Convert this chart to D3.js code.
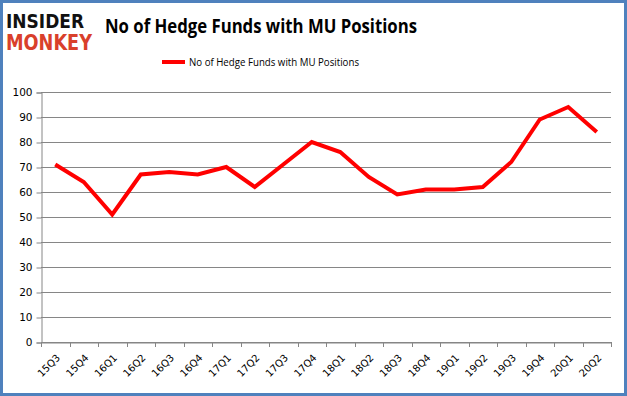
<!DOCTYPE html>
<html><head><meta charset="utf-8">
<script src="https://cdn.jsdelivr.net/npm/d3@7"></script>
<style>html,body{margin:0;padding:0;background:#fff}</style>
</head><body>
<script>
const categories = ["15Q3","15Q4","16Q1","16Q2","16Q3","16Q4","17Q1","17Q2","17Q3","17Q4","18Q1","18Q2","18Q3","18Q4","19Q1","19Q2","19Q3","19Q4","20Q1","20Q2"];
const values = [71,64,51,67,68,67,70,62,71,80,76,66,59,61,61,62,72,89,94,84];
const yTicks = [0,10,20,30,40,50,60,70,80,90,100];
const seriesName = "No of Hedge Funds with MU Positions";
const titleText = "No of Hedge Funds with MU Positions";

(function(){
const W = 627, H = 396;
const svg = d3.select("body").append("svg").attr("width", W).attr("height", H);
svg.append("rect").attr("x",1.5).attr("y",1.5).attr("width",W-3).attr("height",H-3)
  .attr("fill","#fff").attr("stroke","#4F81BD").attr("stroke-width",3);

// logo
svg.append("text").attr("x",6).attr("y",28).attr("font-family","DejaVu Sans").attr("font-weight","bold")
  .attr("font-size",20).attr("textLength",78).attr("lengthAdjust","spacingAndGlyphs").attr("fill","#111").text("INSIDER");
svg.append("text").attr("x",6).attr("y",50).attr("font-family","DejaVu Sans").attr("font-weight","bold")
  .attr("font-size",21).attr("textLength",86).attr("lengthAdjust","spacingAndGlyphs").attr("fill","#d9402b").text("MONKEY");

svg.append("text").attr("x",105).attr("y",33)
  .attr("font-family","Open Sans, Liberation Sans").attr("font-weight","bold").attr("font-size",19)
  .attr("textLength",312).attr("lengthAdjust","spacingAndGlyphs")
  .attr("fill","#000").text(titleText);

// legend
svg.append("line").attr("x1",162).attr("x2",185).attr("y1",62).attr("y2",62).attr("stroke","#ff0000").attr("stroke-width",4);
svg.append("text").attr("x",189).attr("y",66).attr("font-family","Open Sans, Liberation Sans").attr("font-size",11)
  .attr("textLength",170).attr("lengthAdjust","spacingAndGlyphs")
  .attr("fill","#000").text(seriesName);

const pLeft = 41, pRight = 611, pTop = 92, pBottom = 342;
const x = d3.scaleBand().domain(categories).range([pLeft,pRight]);
const y = d3.scaleLinear().domain([0,100]).range([pBottom,pTop]);

// gridlines
svg.append("g").selectAll("line").data(yTicks).join("line")
  .attr("x1",pLeft).attr("x2",pRight).attr("y1",d=>y(d)+0.5).attr("y2",d=>y(d)+0.5)
  .attr("stroke","#868686").attr("stroke-width",1);

// y axis
const yAxis = svg.append("g").attr("transform",`translate(${pLeft+0.5},0.5)`)
  .call(d3.axisLeft(y).tickValues(yTicks).tickSize(5).tickPadding(4));
yAxis.select(".domain").attr("stroke","#868686");
yAxis.selectAll(".tick line").attr("stroke","#868686");
yAxis.selectAll("text").attr("font-family","DejaVu Sans, Liberation Sans").attr("font-size",10.5).attr("fill","#000");

// x axis
const xAxis = svg.append("g").attr("transform",`translate(0.5,${pBottom+0.5})`)
  .call(d3.axisBottom(x).tickSize(0).tickFormat(""));
xAxis.select(".domain").attr("stroke","#868686");
const edges = categories.map((c,i)=>pLeft + i*x.bandwidth()).concat([pRight]);
svg.append("g").selectAll("line").data(edges).join("line")
  .attr("x1",d=>Math.round(d)+0.5).attr("x2",d=>Math.round(d)+0.5).attr("y1",pBottom).attr("y2",pBottom+5)
  .attr("stroke","#868686");
svg.append("g").selectAll("text").data(categories).join("text")
  .attr("transform",d=>`translate(${x(d)+x.bandwidth()/2+3},${pBottom+14}) rotate(-45)`)
  .attr("text-anchor","end").attr("dy","0.35em")
  .attr("font-family","DejaVu Sans, Liberation Sans").attr("font-size",10).attr("fill","#000").text(d=>d);

// line
const line = d3.line().x((d,i)=>x(categories[i])+x.bandwidth()/2).y(d=>y(d));
svg.append("path").datum(values).attr("d",line).attr("fill","none")
  .attr("stroke","#ff0000").attr("stroke-width",4).attr("stroke-linejoin","miter");
})();
</script>
</body></html>
